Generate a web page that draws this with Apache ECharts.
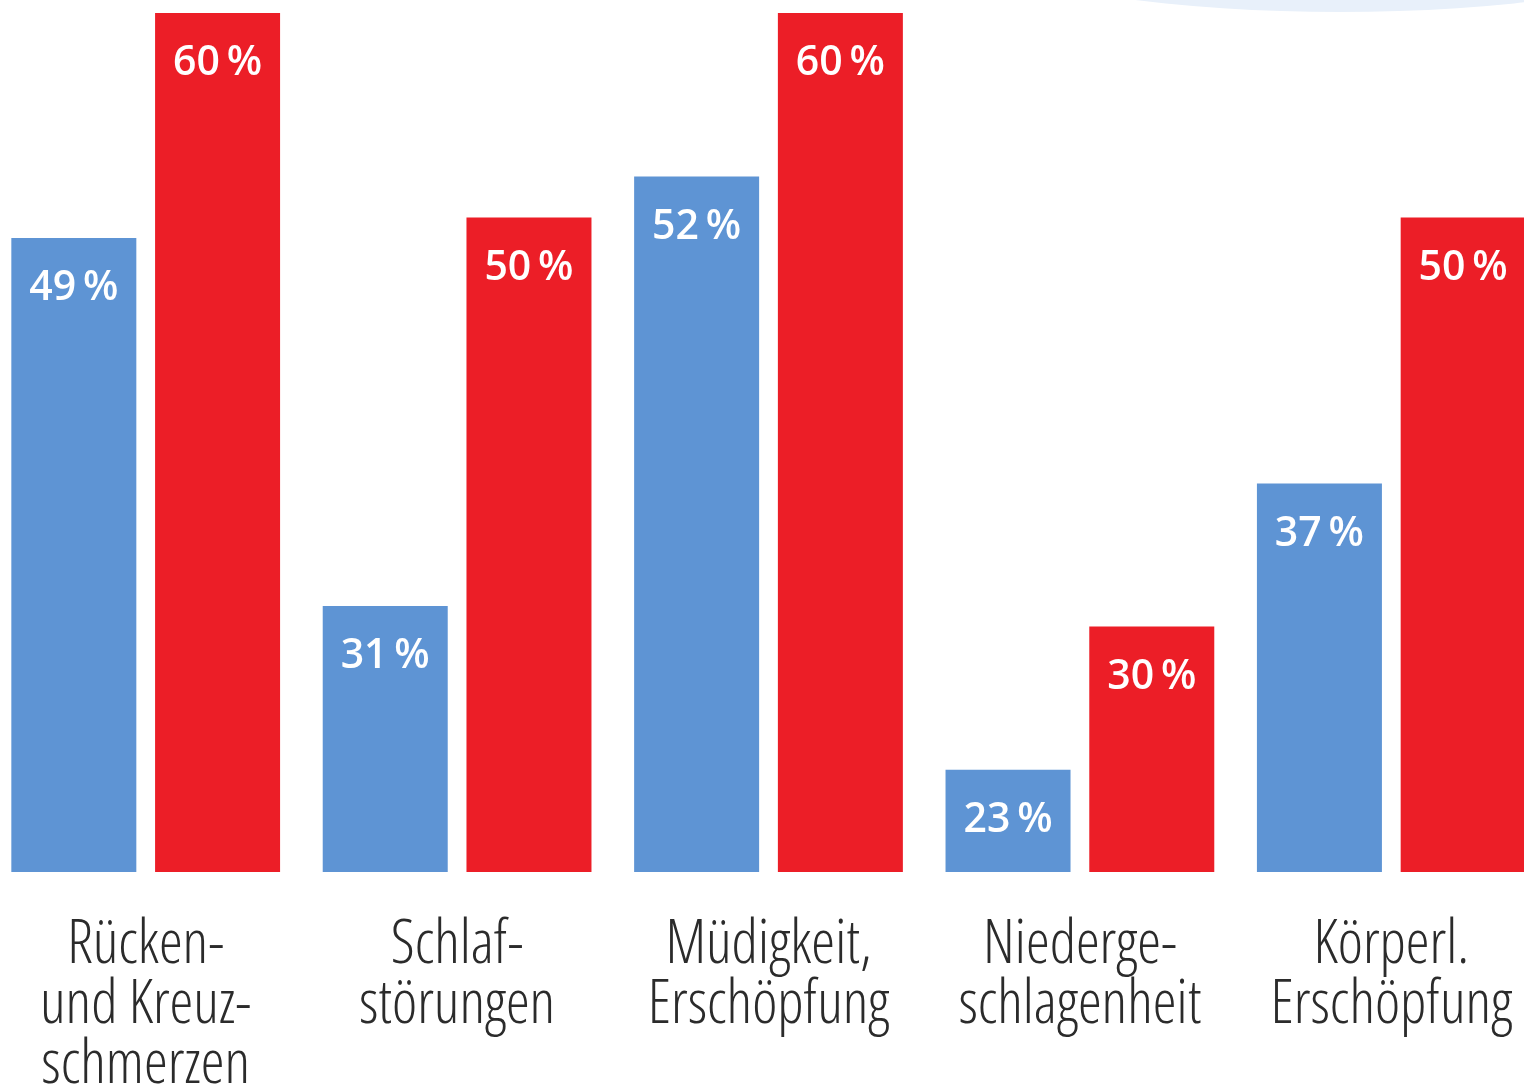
<!DOCTYPE html>
<html><head><meta charset="utf-8">
<script src="https://cdn.jsdelivr.net/npm/echarts@6/dist/echarts.min.js"></script>
<style>html,body{margin:0;padding:0;background:#fff}#c{width:1524px;height:1088px}</style>
</head><body><div id="c"></div>
<script>
const categories = ["Rücken-\nund Kreuz-\nschmerzen", "Schlaf-\nstörungen", "Müdigkeit,\nErschöpfung", "Niederge-\nschlagenheit", "Körperl.\nErschöpfung"];
const seriesBlue = [49, 31, 52, 23, 37];
const seriesRed = [60, 50, 60, 30, 50];

const chart = echarts.init(document.getElementById('c'), null, {renderer: 'canvas'});
const labelCfg = {
  show: true, position: 'insideTop', distance: 30,
  color: '#fff', fontFamily: '"Open Sans"', fontStyle: 'semi-condensed', fontWeight: 600, fontSize: 41,
  formatter: p => p.value + '\u2009%'
};
chart.setOption({
  animation: false,
  backgroundColor: '#fff',
  graphic: [{
    type: 'circle', x: 1340, y: -188, scaleX: 3, scaleY: 1,
    shape: {cx: 0, cy: 0, r: 200},
    style: {fill: '#e8f0fa'}, z: -10
  }],
  grid: {left: -10, width: 1557, top: 13, bottom: 216, containLabel: false, outerBoundsMode: 'none'},
  xAxis: {
    type: 'category', data: categories,
    axisLine: {show: false}, axisTick: {show: false},
    axisLabel: {
      margin: 44, interval: 0, hideOverlap: false,
      fontFamily: '"Open Sans"', fontStyle: 'condensed', fontWeight: 320,
      fontSize: 60, lineHeight: 60, color: '#2b2b2b', verticalAlign: 'top'
    }
  },
  yAxis: {type: 'value', min: 18, max: 60, show: false, splitLine: {show: false}},
  series: [
    {type: 'bar', data: seriesBlue, barWidth: 125, barGap: '15%', itemStyle: {color: '#5e94d4'}, label: Object.assign({}, labelCfg, {fontStyle: 'normal'})},
    {type: 'bar', data: seriesRed, barWidth: 125, barGap: '15%', itemStyle: {color: '#ec1e27'}, label: Object.assign({}, labelCfg, {fontStyle: 'normal'})}
  ]
});
</script></body></html>
